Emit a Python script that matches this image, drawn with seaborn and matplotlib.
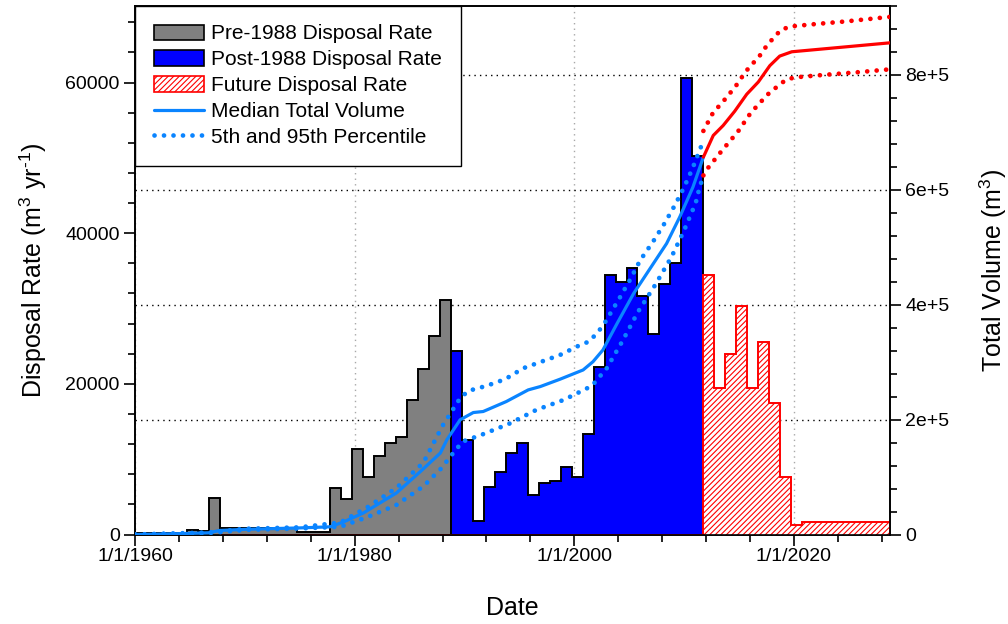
import numpy as np
import matplotlib
matplotlib.use('Agg')
import matplotlib.pyplot as plt
from matplotlib.patches import Patch
from matplotlib.lines import Line2D
from matplotlib.ticker import MultipleLocator, FuncFormatter
import seaborn as sns

sns.set_style('ticks')
plt.rcParams['font.family'] = ['Liberation Sans', 'DejaVu Sans']
plt.rcParams['mathtext.default'] = 'regular'
plt.rcParams['hatch.linewidth'] = 0.8
plt.rcParams['hatch.color'] = 'red'
for k in ['text.color', 'axes.labelcolor', 'xtick.color', 'ytick.color', 'axes.edgecolor']:
    plt.rcParams[k] = 'black'

# disposal rate per fiscal year (FY N runs Oct 1 N-1 .. Sep 30 N), m3/yr
pre_fy = np.arange(1960, 1989)
pre_rate = [240, 240, 250, 250, 250, 650, 500, 4900, 820, 820, 820, 820, 820, 820, 820,
            380, 380, 380, 6200, 4750, 11400, 7700, 10400, 12200, 12900, 17800, 22000,
            26400, 31100]

post_fy = np.arange(1989, 2012)
post_rate = [24300, 12500, 1800, 6300, 8300, 10800, 12200, 5300, 6900, 7100, 9000, 7700,
             13300, 22200, 34500, 33500, 35400, 31600, 26600, 33300, 36000, 60600, 50200]

future_fy = np.arange(1968, 2029)
future_rate = [0] * 44 + [34400, 19400, 24000, 30400, 19400, 25600, 17500, 7700, 1200,
                          1700, 1700, 1700, 1700, 1700, 1700, 1700, 1700]

# total volume (m3), decimal year
med_year = [1960, 1964, 1966.7, 1967.7, 1970, 1975, 1977.75, 1979, 1980.8, 1983.8, 1986,
            1987.8, 1988.4, 1989.6, 1990.8, 1991.7, 1993.8, 1995.8, 1996.9, 1998.7, 2000.8,
            2001.7, 2002.6, 2003.9, 2005.4, 2006.9, 2008.4, 2009.6, 2010.8, 2011.75]
med_vol = [0, 1500, 3000, 7000, 9000, 11500, 13400, 22000, 37600, 72300, 109900, 141800,
           165000, 199600, 212200, 214000, 231300, 251600, 257400, 270200, 286300, 300700,
           321000, 367400, 419400, 462800, 506200, 552400, 604400, 656500]
up_year = [1960, 1966.7, 1970, 1975, 1978.7, 1981.2, 1983.8, 1986.25, 1988.0, 1989.6, 1990.35,
           1992.0, 1993.7, 1995.35, 1997.0, 1998.7, 2000.35, 2001.3, 2002.0, 2002.65, 2004.15,
           2005.05, 2006.0, 2007.15, 2008.2, 2009.15, 2010.0, 2010.75, 2011.4, 2011.75]
up_vol = [0, 3500, 10000, 12500, 21000, 48000, 81000, 124900, 189200, 237200, 249900, 258600,
          270200, 289300, 300700, 312400, 328000, 335500, 348800, 364400, 412500, 442500,
          477200, 509000, 540900, 572700, 604400, 636400, 668100, 685000]
lo_year = [1960, 1966.7, 1970, 1975, 1978.7, 1981.2, 1983.75, 1986.25, 1987.85, 1989.15,
           1989.85, 1991.55, 1994.05, 1996.55, 1999.05, 2001.6, 2002.95, 2004.4, 2005.8,
           2007.35, 2008.85, 2010.0, 2011.05, 2011.45, 2011.75]
lo_vol = [0, 2500, 8000, 10500, 13500, 30700, 50900, 83800, 114500, 146300, 161900, 173500,
          192600, 216900, 234300, 258600, 289300, 337200, 387500, 433800, 483000, 529300,
          576700, 607400, 622000]

fmed_year = [2011.75, 2012.65, 2013.55, 2014.6, 2015.7, 2016.75, 2017.8, 2018.7, 2019.8,
             2028.75]
fmed_vol = [656500, 694200, 711500, 736300, 766000, 787200, 815600, 832300, 839800, 855400]
fup_year = [2011.75, 2012.65, 2013.4, 2014.1, 2014.8, 2015.35, 2015.95, 2016.75, 2017.35,
            2018.05, 2018.8, 2019.65, 2022.05, 2024.65, 2028.1, 2028.75]
fup_vol = [702100, 734500, 749900, 766000, 782800, 798300, 813700, 829300, 846000, 862100,
           877600, 883800, 888200, 892500, 899300, 900500]
flo_year = [2011.75, 2012.2, 2013.5, 2014.9, 2016.05, 2017.6, 2018.5, 2019.25, 2020.05,
            2022.65, 2026.0, 2028.45, 2028.75]
flo_vol = [624700, 638400, 669300, 701000, 733200, 765500, 779700, 790800, 795200, 799500,
           804500, 808800, 809500]

LINE_BLUE = '#0A84FF'
DOTS = (0, (0.01, 2.0))


def fy_edges(fy):
    return np.r_[fy - 1, fy[-1]] + 0.75


fig = plt.figure(figsize=(10.08, 6.24), dpi=100)
ax = fig.add_axes([0.134, 0.1434, 0.749, 0.8475])
ax2 = ax.twinx()
ax2.set_axisbelow(True)

# rate bars live on the left scale but are drawn in the top axes so the grid stays behind
ax2.stairs(pre_rate, fy_edges(pre_fy), fill=True, facecolor='#808080', edgecolor='black',
           lw=1.4, transform=ax.transData, zorder=1)
ax2.stairs(post_rate, fy_edges(post_fy), fill=True, facecolor='#0000FF', edgecolor='black',
           lw=1.4, transform=ax.transData, zorder=1)
ax2.stairs(future_rate, fy_edges(future_fy), fill=True, facecolor='white', edgecolor='red',
           hatch='//////', lw=1.4, transform=ax.transData, zorder=1.1)

# total volume
sns.lineplot(x=med_year, y=med_vol, ax=ax2, color=LINE_BLUE, lw=2.3, zorder=3)
sns.lineplot(x=up_year, y=up_vol, ax=ax2, color=LINE_BLUE, lw=3.4, linestyle=DOTS,
             dash_capstyle='round', zorder=3)
sns.lineplot(x=lo_year, y=lo_vol, ax=ax2, color=LINE_BLUE, lw=3.4, linestyle=DOTS,
             dash_capstyle='round', zorder=3)
sns.lineplot(x=fmed_year, y=fmed_vol, ax=ax2, color='red', lw=2.3, zorder=3)
sns.lineplot(x=fup_year, y=fup_vol, ax=ax2, color='red', lw=3.4, linestyle=DOTS,
             dash_capstyle='round', zorder=3)
sns.lineplot(x=flo_year, y=flo_vol, ax=ax2, color='red', lw=3.4, linestyle=DOTS,
             dash_capstyle='round', zorder=3)

ax.set_xlim(1960, 2028.75)
ax.set_ylim(0, 70200)
ax2.set_ylim(0, 920000)

ax.xaxis.set_major_locator(MultipleLocator(20))
ax.xaxis.set_minor_locator(MultipleLocator(4))
ax.xaxis.set_major_formatter(FuncFormatter(lambda v, p: f'1/1/{int(round(v))}'))
ax.yaxis.set_major_locator(MultipleLocator(20000))
ax.yaxis.set_minor_locator(MultipleLocator(4000))
ax2.yaxis.set_major_locator(MultipleLocator(200000))
ax2.yaxis.set_minor_locator(MultipleLocator(40000))
ax2.yaxis.set_major_formatter(FuncFormatter(lambda v, p: '0' if v == 0 else f'{int(v / 1e5)}e+5'))

ax.grid(axis='x', which='major', color='#a8a8a8', ls=(0, (1, 3)), lw=1.0)
ax2.grid(axis='y', which='major', color='black', ls=(0, (1, 3)), lw=1.0)

for a in (ax, ax2):
    a.tick_params(which='major', direction='out', length=8, width=1.2, labelsize=14, pad=3)
    a.tick_params(which='minor', direction='out', length=5, width=1.2)
    for s in a.spines.values():
        s.set_linewidth(1.2)
        s.set_visible(True)
ax.tick_params(axis='x', which='major', pad=2)

ax.set_xlabel('Date', fontsize=18, labelpad=22)
ax.set_ylabel('Disposal Rate (m$^3$ yr$^{\u2010 1}$)', fontsize=18, labelpad=12)
ax2.set_ylabel('Total Volume (m$^3$)', fontsize=18, labelpad=20)

handles = [
    Patch(facecolor='#808080', edgecolor='black', lw=1.2),
    Patch(facecolor='#0000FF', edgecolor='black', lw=1.2),
    Patch(facecolor='white', edgecolor='red', hatch='//////', lw=1.2),
    Line2D([], [], color=LINE_BLUE, lw=2.3),
    Line2D([], [], color=LINE_BLUE, lw=3.4, linestyle=DOTS, dash_capstyle='round'),
]
labels = ['Pre-1988 Disposal Rate', 'Post-1988 Disposal Rate', 'Future Disposal Rate',
          'Median Total Volume', '5th and 95th Percentile']
leg = ax2.legend(handles, labels, loc='upper left', bbox_to_anchor=(0, 1), borderaxespad=0,
                 fontsize=15, frameon=True, fancybox=False, framealpha=1, edgecolor='black',
                 handlelength=2.4, handleheight=0.75, labelspacing=0.33, borderpad=0.9,
                 handletextpad=0.35)
leg.get_frame().set_linewidth(1.0)
leg.set_zorder(10)

fig.savefig('out.png', dpi=100)
